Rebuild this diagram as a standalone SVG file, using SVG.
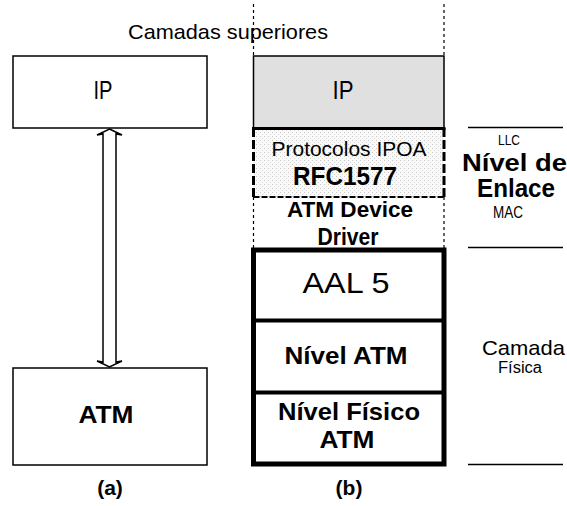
<svg xmlns="http://www.w3.org/2000/svg" width="567" height="506" viewBox="0 0 567 506">
<style>
text{font-family:"Liberation Sans",Arial,sans-serif;fill:#000;text-anchor:middle}
.b{font-weight:bold}
.box{fill:#fff;stroke:#000;stroke-width:1.5}
.thick{fill:none;stroke:#000;stroke-width:5}
.rule{stroke:#000;stroke-width:1.5}
.dot{stroke:#000;stroke-width:1.2;stroke-dasharray:3 3;fill:none}
</style>
<defs>
<pattern id="stip" width="4" height="4" patternUnits="userSpaceOnUse">
<rect width="4" height="4" fill="#fafafa"/>
<rect x="0" y="0" width="1" height="1" fill="#c8c8c8"/>
<rect x="2" y="2" width="1" height="1" fill="#d8d8d8"/>
</pattern>
</defs>
<rect width="567" height="506" fill="#fff"/>

<text x="228" y="39" font-size="21" textLength="200" lengthAdjust="spacingAndGlyphs">Camadas superiores</text>

<g id="a-ip">
<rect class="box" x="13" y="56" width="194" height="72"/>
<text x="103" y="99" font-size="25" textLength="19" lengthAdjust="spacingAndGlyphs">IP</text>
</g>
<g id="a-atm">
<rect class="box" x="13" y="368" width="194" height="97"/>
<text class="b" x="106" y="423" font-size="24" textLength="55" lengthAdjust="spacingAndGlyphs">ATM</text>
</g>
<text class="b" x="110" y="495" font-size="21">(a)</text>

<g id="connectors">
<path d="M109.5,129 L122,135 L116,134 L116,362 L122,361 L109.5,367 L97,361 L103,362 L103,134 L97,135 Z" fill="#fff" stroke="#000" stroke-width="1.5" stroke-linejoin="miter"/>
<line class="dot" x1="253.5" y1="4" x2="253.5" y2="56"/>
<line class="dot" x1="444" y1="4" x2="444" y2="56"/>
</g>

<g id="b-ip">
<rect x="253.5" y="56" width="190.5" height="72" fill="#e0e0e0" stroke="#000" stroke-width="1.5"/>
<text x="343" y="99" font-size="25" textLength="21" lengthAdjust="spacingAndGlyphs">IP</text>
</g>

<g id="b-ipoa">
<rect x="253.5" y="128" width="190.5" height="69" fill="url(#stip)"/>
<line x1="252" y1="128.5" x2="445.5" y2="128.5" stroke="#000" stroke-width="3"/>
<line x1="253.5" y1="128" x2="253.5" y2="197" stroke="#000" stroke-width="3" stroke-dasharray="9 3"/>
<line x1="444" y1="128" x2="444" y2="197" stroke="#000" stroke-width="3" stroke-dasharray="9 3"/>
<line x1="253.5" y1="197" x2="444" y2="197" stroke="#000" stroke-width="2" stroke-dasharray="6 2"/>
<text x="349" y="156" font-size="21" textLength="155" lengthAdjust="spacingAndGlyphs">Protocolos IPOA</text>
<text class="b" x="345" y="185" font-size="26" textLength="104" lengthAdjust="spacingAndGlyphs">RFC1577</text>
</g>

<g id="b-driver">
<line class="dot" x1="253.5" y1="197" x2="253.5" y2="248"/>
<line class="dot" x1="444" y1="197" x2="444" y2="248"/>
<text class="b" x="350" y="217" font-size="22" textLength="126" lengthAdjust="spacingAndGlyphs">ATM Device</text>
<text class="b" x="348" y="245" font-size="23" textLength="61" lengthAdjust="spacingAndGlyphs">Driver</text>
</g>

<g id="b-aal5">
<text x="346" y="293" font-size="30" textLength="87" lengthAdjust="spacingAndGlyphs">AAL 5</text>
</g>
<g id="b-atm">
<text class="b" x="346" y="364" font-size="24" textLength="123" lengthAdjust="spacingAndGlyphs">Nível ATM</text>
</g>
<g id="b-phy">
<text class="b" x="349" y="420" font-size="24" textLength="142" lengthAdjust="spacingAndGlyphs">Nível Físico</text>
<text class="b" x="347" y="448" font-size="24" textLength="55" lengthAdjust="spacingAndGlyphs">ATM</text>
</g>
<g id="b-frame">
<rect class="thick" x="253.5" y="250" width="190.5" height="214"/>
<line x1="253" y1="320.5" x2="444" y2="320.5" stroke="#000" stroke-width="4"/>
<line x1="253" y1="392.5" x2="444" y2="392.5" stroke="#000" stroke-width="4"/>
</g>
<text class="b" x="349" y="495" font-size="21">(b)</text>

<g id="labels">
<line class="rule" x1="468" y1="127.5" x2="563" y2="127.5"/>
<line class="rule" x1="468" y1="247.5" x2="563" y2="247.5"/>
<line class="rule" x1="468" y1="464.5" x2="563" y2="464.5"/>
<text x="509" y="145" font-size="15" textLength="22" lengthAdjust="spacingAndGlyphs">LLC</text>
<text class="b" x="514.5" y="171" font-size="24" textLength="105" lengthAdjust="spacingAndGlyphs">Nível de</text>
<text class="b" x="516" y="197" font-size="25" textLength="78" lengthAdjust="spacingAndGlyphs">Enlace</text>
<text x="508" y="218" font-size="16" textLength="30" lengthAdjust="spacingAndGlyphs">MAC</text>
<text x="523.5" y="355" font-size="21" textLength="83" lengthAdjust="spacingAndGlyphs">Camada</text>
<text x="520" y="373" font-size="16" textLength="44" lengthAdjust="spacingAndGlyphs">Física</text>
</g>
</svg>
